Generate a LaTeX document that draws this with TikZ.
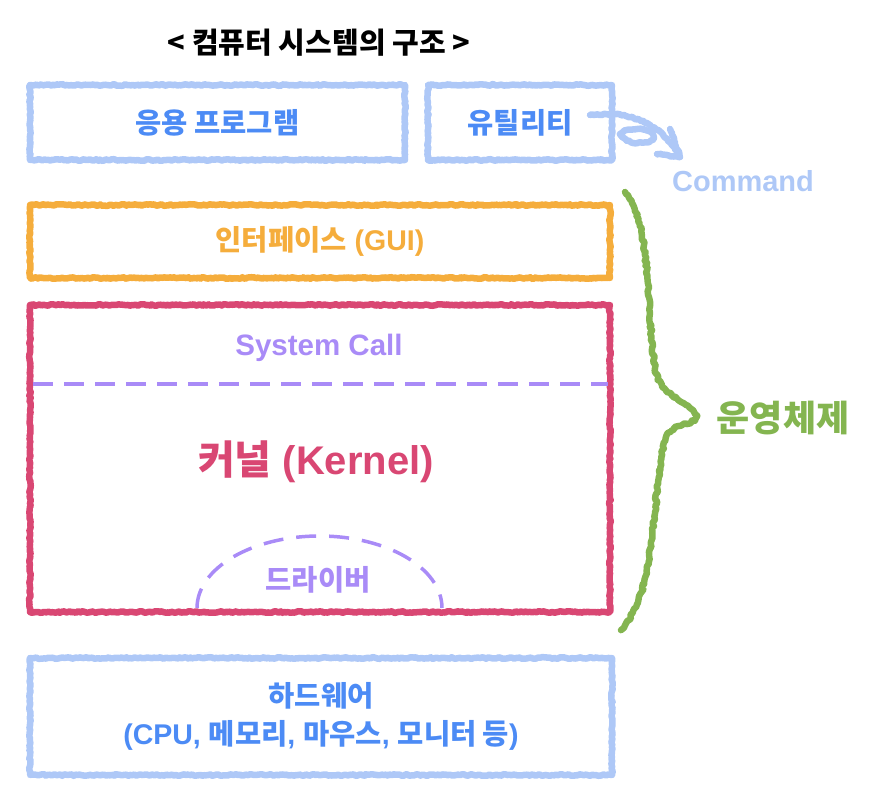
\documentclass[tikz,border=0pt]{standalone}
\usepackage{fontspec}
\setmainfont{Liberation Sans}
\newfontfamily\kr{Noto Sans CJK KR}
\usetikzlibrary{decorations.pathmorphing}
\definecolor{lblue}{HTML}{AEC8F7}
\definecolor{tblue}{HTML}{4C8BF5}
\definecolor{orng}{HTML}{F5AD3C}
\definecolor{krred}{HTML}{D94773}
\definecolor{purp}{HTML}{A98BF7}
\definecolor{grn}{HTML}{84B550}
\newcommand\fsz[1]{\fontsize{#1}{#1}\selectfont\bfseries}
\tikzset{
  crayon/.style={line width=6.5pt, line cap=round, line join=round, decorate,
    decoration={random steps, segment length=2pt, amplitude=0.8pt}},
  box/.style={crayon, draw=#1, rectangle, inner sep=0pt},
  lbl/.style={text=#1, font=\fsz{28.5}, align=center, inner sep=0pt},
  dashline/.style={draw=purp, line width=3.5pt, dash pattern=on 20pt off 11pt},
}
\begin{document}
\begin{tikzpicture}[x=1pt, y=-1pt]
\pgfmathsetseed{7}
\useasboundingbox (0,0) rectangle (880,808);
% title
\node[lbl=black, font=\fsz{29}] (title) at (319,43) {\kr < 컴퓨터 시스템의 구조 >};
% top boxes
\node[box=lblue, minimum width=375pt, minimum height=75pt] (app) at (217.5,122.5) {};
\node[lbl=tblue] (applbl) at (app.center) {\kr 응용 프로그램};
\node[box=lblue, minimum width=184pt, minimum height=75pt] (util) at (520,122.5) {};
\node[lbl=tblue] (utillbl) at (util.center) {\kr 유틸리티};
% command arrow
\coordinate (cmdstart) at (590,115);
\coordinate (cmdtip) at (680,157);
\draw[crayon, draw=lblue] (cmdstart) .. controls (630,110) and (662,124) .. (cmdtip);
\draw[crayon, draw=lblue] (620,134) .. controls (632,124) and (660,130) .. (652,140) .. controls (642,146) and (622,142) .. (620,134);
\draw[crayon, draw=lblue] (670,129) -- (cmdtip) -- (657,154);
\node[lbl=lblue, font=\fsz{29}] (cmd) at (743,181) {Command};
% GUI
\node[box=orng, minimum width=580pt, minimum height=73pt] (gui) at (320,241.5) {};
\node[lbl=orng] (guilbl) at (gui.center) {{\kr 인터페이스} (GUI)};
% kernel
\node[box=krred, minimum width=580pt, minimum height=307pt] (kbox) at (320,458.5) {};
\node[lbl=purp, font=\fsz{29.5}] (syscall) at (319,348) {System Call};
\coordinate (dl) at (33,384);
\coordinate (dr) at (608,384);
\draw[dashline] (dl) -- (dr);
\node[lbl=krred, font=\fsz{40}] (kernel) at (316,462) {{\kr 커널} (Kernel)};
\draw[dashline, dash pattern=on 20pt off 13pt] (197,608) arc[start angle=180, end angle=0, x radius=122.5, y radius=-72];
\node[lbl=purp] (driver) at (318,580) {\kr 드라이버};
% hardware
\node[box=lblue, minimum width=582pt, minimum height=117pt] (hw) at (321,716.5) {};
\node[lbl=tblue, font=\fsz{28.5}] (hwlbl) at (hw.center) {{\kr 하드웨어}\\[9pt](CPU, {\kr 메모리}, {\kr 마우스}, {\kr 모니터 등})};
% brace
\draw[crayon, draw=grn, decoration={random steps, segment length=2.5pt, amplitude=1.2pt}] (625,192) .. controls (652,225) and (645,300) .. (655,368)
  .. controls (660,400) and (690,398) .. (697,416)
  .. controls (692,428) and (670,420) .. (664,442)
  .. controls (650,520) and (656,590) .. (621,630);
\node[lbl=grn, font=\fsz{36}] (os) at (783,418) {\kr 운영체제};
\end{tikzpicture}
\end{document}
